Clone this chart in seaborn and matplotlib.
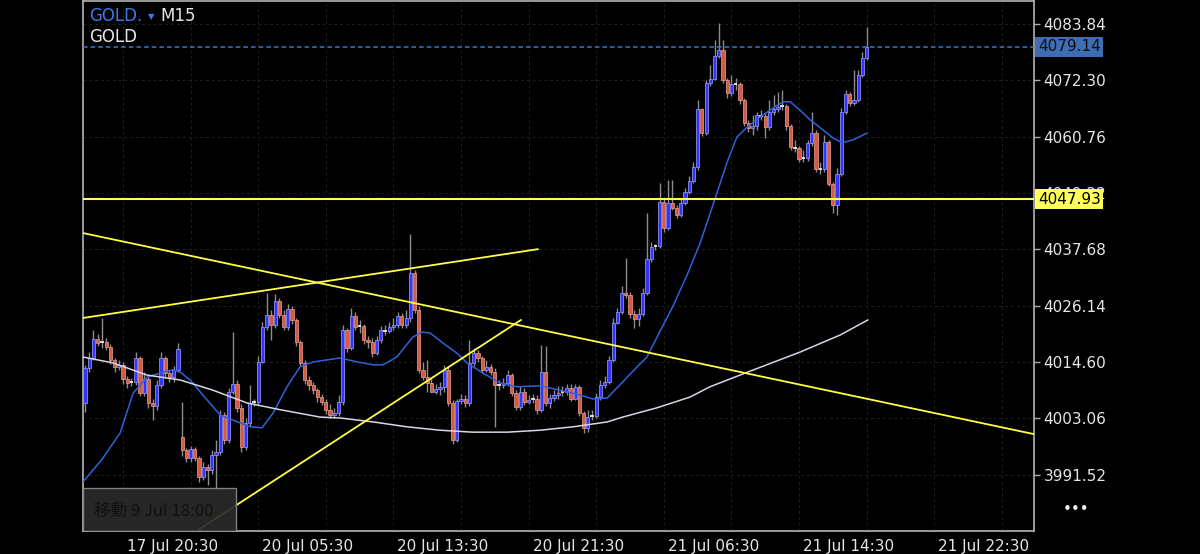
import numpy as np
import pandas as pd
import seaborn as sns
import matplotlib.pyplot as plt
from matplotlib.patches import Rectangle
from matplotlib.transforms import ScaledTranslation, blended_transform_factory

# ---- GOLD M15 candles ----
opens = [4006.2, 4013.4, 4015.4, 4019.3, 4018.5, 4018.7, 4017.7, 4015.0, 4013.6, 4014.0,
         4011.1, 4010.3, 4010.5, 4015.4, 4008.2, 4011.1, 4006.2, 4005.6, 4009.9, 4015.4,
         4012.3, 4011.5, 4013.0, 3999.2, 3996.6, 3994.9, 3996.8, 3994.9, 3991.0, 3993.1,
         3992.5, 3995.5, 3996.2, 4003.7, 3998.6, 4008.4, 4010.1, 4005.2, 3997.2, 4002.1,
         4006.2, 4006.4, 4014.6, 4021.8, 4024.2, 4022.2, 4027.1, 4024.2, 4021.8, 4025.4,
         4023.2, 4018.7, 4014.4, 4010.9, 4009.9, 4008.8, 4007.4, 4006.4, 4004.8, 4003.7,
         4004.1, 4006.4, 4021.1, 4017.5, 4024.0, 4021.8, 4021.9, 4019.1, 4018.7, 4016.4,
         4019.1, 4021.1, 4020.9, 4021.8, 4022.2, 4024.0, 4022.2, 4023.6, 4032.8, 4025.2,
         4013.0, 4011.5, 4010.3, 4008.4, 4009.0, 4009.4, 4013.0, 4006.2, 3998.6, 4006.6,
         4007.0, 4006.2, 4014.4, 4016.4, 4015.4, 4013.0, 4013.6, 4012.5, 4009.9, 4009.8,
         4010.3, 4011.9, 4008.2, 4005.4, 4008.4, 4006.4, 4006.8, 4007.0, 4004.8, 4012.5,
         4006.2, 4007.2, 4007.8, 4008.2, 4008.4, 4009.3, 4007.0, 4009.5, 4004.1, 4001.1,
         4003.3, 4003.5, 4007.4, 4009.9, 4010.5, 4015.0, 4022.6, 4024.8, 4028.7, 4028.3,
         4024.4, 4023.4, 4024.4, 4028.7, 4035.7, 4038.2, 4038.3, 4047.4, 4042.0, 4047.2,
         4046.1, 4044.7, 4047.2, 4049.4, 4051.7, 4054.5, 4066.4, 4061.5, 4071.8, 4072.6,
         4077.3, 4078.5, 4072.4, 4069.7, 4071.6, 4071.5, 4068.3, 4063.6, 4062.5, 4062.9,
         4065.2, 4065.0, 4062.7, 4065.8, 4066.4, 4066.8, 4067.0, 4062.9, 4058.6, 4058.4,
         4056.2, 4056.4, 4059.5, 4061.5, 4054.1, 4054.2, 4059.7, 4051.1, 4046.8, 4053.1,
         4065.8, 4069.5, 4067.7, 4068.3, 4073.4, 4076.9]

highs = [4014.0, 4016.6, 4021.1, 4020.3, 4023.6, 4019.5, 4018.3, 4015.4, 4015.0, 4014.6,
         4011.7, 4011.3, 4016.6, 4015.8, 4012.5, 4011.7, 4007.0, 4010.9, 4016.6, 4015.8,
         4013.0, 4013.8, 4018.5, 4006.4, 3997.0, 3997.4, 3997.2, 3995.3, 3994.1, 3993.7,
         3996.6, 3998.6, 4004.8, 4004.3, 4009.3, 4020.7, 4010.9, 4006.0, 4003.1, 4009.9,
         4007.0, 4015.8, 4022.8, 4028.7, 4025.2, 4028.5, 4027.7, 4025.2, 4026.5, 4026.1,
         4023.6, 4019.1, 4015.0, 4011.7, 4010.5, 4009.3, 4008.0, 4007.0, 4006.0, 4005.2,
         4007.8, 4022.2, 4021.6, 4025.7, 4024.8, 4023.2, 4022.4, 4019.9, 4019.5, 4019.9,
         4022.0, 4022.2, 4022.8, 4023.6, 4024.8, 4024.6, 4025.2, 4040.8, 4033.4, 4026.1,
         4014.6, 4015.0, 4011.3, 4010.1, 4010.5, 4014.0, 4013.8, 4006.8, 4007.0, 4008.0,
         4007.8, 4019.1, 4017.5, 4017.0, 4015.8, 4015.0, 4014.2, 4013.4, 4010.9, 4011.3,
         4013.0, 4012.3, 4008.8, 4009.7, 4009.3, 4007.8, 4008.0, 4007.8, 4018.1, 4017.9,
         4008.0, 4008.8, 4009.7, 4009.7, 4010.1, 4010.1, 4010.1, 4009.9, 4004.5, 4004.8,
         4004.8, 4008.2, 4010.9, 4011.7, 4015.8, 4023.6, 4025.7, 4030.2, 4035.9, 4028.9,
         4025.2, 4025.7, 4029.8, 4045.1, 4039.2, 4038.8, 4051.3, 4048.0, 4051.9, 4051.9,
         4046.8, 4048.0, 4050.2, 4052.7, 4055.6, 4068.3, 4066.6, 4072.4, 4075.4, 4080.6,
         4084.1, 4080.6, 4072.8, 4073.4, 4072.8, 4072.0, 4068.7, 4064.2, 4065.2, 4065.8,
         4066.2, 4065.6, 4068.3, 4069.3, 4069.9, 4070.3, 4067.5, 4063.4, 4060.1, 4058.8,
         4058.0, 4060.1, 4065.8, 4062.1, 4055.6, 4061.1, 4060.1, 4051.5, 4054.3, 4066.6,
         4070.3, 4069.9, 4074.4, 4074.4, 4078.1, 4083.2]

lows = [4004.3, 4012.5, 4015.0, 4017.9, 4017.5, 4017.0, 4014.2, 4012.5, 4013.0, 4010.1,
        4009.3, 4009.7, 4009.9, 4007.6, 4007.6, 4005.2, 4002.7, 4004.8, 4009.3, 4011.3,
        4010.5, 4010.5, 4012.5, 3995.3, 3994.1, 3994.1, 3994.3, 3990.0, 3990.4, 3989.4,
        3991.6, 3988.4, 3995.5, 3997.8, 3998.0, 4008.0, 4004.3, 3996.1, 3996.6, 4001.5,
        4005.6, 4005.8, 4014.4, 4021.1, 4019.1, 4021.6, 4023.6, 4021.1, 4021.1, 4022.4,
        4017.9, 4013.8, 4010.1, 4008.8, 4008.0, 4006.4, 4005.8, 4003.9, 4003.1, 4003.1,
        4003.5, 4005.8, 4016.6, 4017.0, 4021.1, 4020.5, 4018.3, 4017.5, 4015.6, 4016.0,
        4018.5, 4020.1, 4020.5, 4021.1, 4021.6, 4021.6, 4021.6, 4022.8, 4024.6, 4012.3,
        4010.9, 4008.4, 4008.4, 4008.0, 4007.8, 4008.4, 4005.6, 3997.8, 3998.2, 4006.0,
        4005.4, 4005.6, 4013.8, 4014.6, 4012.3, 4012.5, 4011.9, 4001.3, 4008.8, 4009.3,
        4009.7, 4007.6, 4004.8, 4004.8, 4005.8, 4006.0, 4006.2, 4003.9, 4004.3, 4005.6,
        4005.2, 4006.6, 4007.0, 4007.6, 4007.8, 4006.6, 4006.8, 4003.5, 4000.0, 4000.2,
        4002.7, 4003.1, 4006.8, 4009.3, 4010.1, 4014.6, 4022.4, 4024.4, 4027.7, 4023.6,
        4021.6, 4022.0, 4024.0, 4028.3, 4035.1, 4037.5, 4037.9, 4041.2, 4041.6, 4045.7,
        4044.1, 4044.3, 4046.8, 4049.0, 4051.3, 4053.9, 4060.9, 4061.1, 4071.1, 4072.4,
        4076.9, 4071.8, 4068.7, 4069.1, 4070.3, 4067.5, 4062.9, 4061.7, 4061.1, 4062.1,
        4064.2, 4060.5, 4062.1, 4065.2, 4065.8, 4066.2, 4062.1, 4058.0, 4057.6, 4055.6,
        4055.6, 4055.8, 4058.8, 4053.5, 4053.1, 4053.5, 4050.7, 4045.1, 4044.7, 4052.7,
        4065.4, 4067.0, 4067.3, 4067.9, 4073.0, 4076.5]

closes = [4013.4, 4015.4, 4019.3, 4018.5, 4018.7, 4017.7, 4015.0, 4013.6, 4014.0, 4011.1,
          4010.3, 4010.5, 4015.4, 4008.2, 4011.1, 4006.2, 4005.6, 4009.9, 4015.4, 4012.3,
          4011.5, 4013.0, 4017.3, 3996.6, 3994.9, 3996.8, 3994.9, 3991.0, 3993.1, 3992.5,
          3995.5, 3996.2, 4003.7, 3998.6, 4008.4, 4010.1, 4005.2, 3997.2, 4002.1, 4006.2,
          4006.4, 4014.6, 4021.8, 4024.2, 4022.2, 4027.1, 4024.2, 4021.8, 4025.4, 4023.2,
          4018.7, 4014.4, 4010.9, 4009.9, 4008.8, 4007.4, 4006.4, 4004.8, 4003.7, 4004.1,
          4006.4, 4021.1, 4017.5, 4024.0, 4021.8, 4021.9, 4019.1, 4018.7, 4016.4, 4019.1,
          4021.1, 4020.9, 4021.8, 4022.2, 4024.0, 4022.2, 4023.6, 4032.8, 4025.2, 4013.0,
          4011.5, 4010.3, 4008.4, 4009.0, 4009.4, 4013.0, 4006.2, 3998.6, 4006.6, 4007.0,
          4006.2, 4014.4, 4016.4, 4015.4, 4013.0, 4013.6, 4012.5, 4009.9, 4009.8, 4010.3,
          4011.9, 4008.2, 4005.4, 4008.4, 4006.4, 4006.8, 4007.0, 4004.8, 4012.5, 4006.2,
          4007.2, 4007.8, 4008.2, 4008.4, 4009.3, 4007.0, 4009.5, 4004.1, 4001.1, 4003.3,
          4003.5, 4007.4, 4009.9, 4010.5, 4015.0, 4022.6, 4024.8, 4028.7, 4028.3, 4024.4,
          4023.4, 4024.4, 4028.7, 4035.7, 4038.2, 4038.3, 4047.4, 4042.0, 4047.2, 4046.1,
          4044.7, 4047.2, 4049.4, 4051.7, 4054.5, 4066.4, 4061.5, 4071.8, 4072.6, 4077.3,
          4078.5, 4072.4, 4069.7, 4071.6, 4071.5, 4068.3, 4063.6, 4062.5, 4062.9, 4065.2,
          4065.0, 4062.7, 4065.8, 4066.4, 4066.8, 4067.0, 4062.9, 4058.6, 4058.4, 4056.2,
          4056.4, 4059.5, 4061.5, 4054.1, 4054.2, 4059.7, 4051.1, 4046.8, 4053.1, 4065.8,
          4069.5, 4067.7, 4068.3, 4073.4, 4076.9, 4079.14]

# moving averages (bar index, price) as drawn on the chart
ma_fast_bar = [-0.5, 4.0, 8.3, 11.4, 14.7, 18.5, 20.8, 22.5, 24.9, 28.9, 32.0, 35.0, 39.1, 41.9,
               44.5, 47.8, 50.9, 54.0, 60.4, 64.4, 68.2, 70.5, 73.8, 77.6, 79.8, 81.7, 84.7,
               88.0, 90.4, 94.2, 98.2, 102.2, 107.7, 112.4, 117.2, 120.2, 123.6, 126.6, 130.7,
               133.0, 135.4, 139.2, 142.5, 145.6, 149.1, 152.0, 154.3, 156.7, 159.8, 162.8,
               165.2, 166.9, 169.2, 171.6, 174.7, 177.0, 179.2, 181.8, 185.1]
ma_fast_val = [3990.0, 3994.6, 4000.0, 4008.2, 4011.5, 4012.5, 4013.0, 4012.5, 4010.9, 4006.8, 4003.7,
               4002.7, 4001.3, 4001.1, 4004.1, 4009.5, 4013.6, 4014.6, 4015.4, 4014.6, 4014.0,
               4014.0, 4015.6, 4019.7, 4020.7, 4020.5, 4018.5, 4016.4, 4014.4, 4012.3, 4010.3,
               4009.5, 4009.7, 4008.8, 4007.8, 4007.0, 4007.2, 4009.9, 4013.6, 4015.6, 4019.7,
               4026.1, 4032.4, 4039.0, 4048.0, 4055.6, 4060.7, 4062.7, 4064.8, 4066.6, 4067.9,
               4067.9, 4066.2, 4064.2, 4062.1, 4060.5, 4059.5, 4060.1, 4061.5]
ma_slow_bar = [-0.5, 6.6, 14.7, 22.5, 30.3, 38.3, 46.2, 55.6, 60.4, 68.2, 76.2, 84.0, 91.8,
               99.9, 107.7, 115.5, 123.6, 127.3, 135.4, 143.2, 147.9, 156.2, 169.2, 178.7, 185.3]
ma_slow_val = [4015.6, 4014.4, 4011.9, 4010.9, 4008.8, 4006.2, 4004.8, 4003.3, 4003.1, 4002.3,
               4001.3, 4000.6, 4000.2, 4000.2, 4000.6, 4001.3, 4002.3, 4003.3, 4005.2, 4007.4,
               4009.5, 4012.3, 4016.6, 4020.1, 4023.2]

# trend lines drawn by the user: (bars, prices)
trend_down = ([-0.47, 224.6], [4041.0, 3999.8])
trend_up_top = ([-0.47, 107.2], [4023.6, 4037.7])
trend_up_low = ([26.5, 103.2], [3980.0, 4023.2])
support_level = 4047.93
last_price = 4079.14

price_ticks = [3991.52, 4003.06, 4014.60, 4026.14, 4037.68, 4049.22, 4060.76, 4072.30, 4083.84]
time_ticks = [9, 41, 73, 105, 137, 169, 201]
time_labels = ["17 Jul 20:30", "20 Jul 05:30", "20 Jul 13:30", "20 Jul 21:30",
               "21 Jul 06:30", "21 Jul 14:30", "21 Jul 22:30"]

df = pd.DataFrame({"open": opens, "high": highs, "low": lows, "close": closes})
df["bar"] = np.arange(len(df))
df["body_lo"] = df[["open", "close"]].min(axis=1)
df["body_h"] = (df["close"] - df["open"]).abs()
doji = df["body_h"] < 0.3
up = (df["close"] > df["open"]) & ~doji
dn = (df["close"] < df["open"]) & ~doji

sns.set_theme(style="dark", rc={"axes.facecolor": "black", "figure.facecolor": "black",
                                "axes.edgecolor": "#b4b4b4", "axes.grid": False})
plt.rcParams["font.family"] = ["DejaVu Sans", "Noto Sans CJK JP"]

fig = plt.figure(figsize=(12, 5.54), dpi=100, facecolor="black")
ax = fig.add_axes([83 / 1200, 23 / 554, 951 / 1200, 530 / 554])
ax.set_facecolor("black")

# faint dashed grid
for gx in range(-7, 225, 16):
    ax.axvline(gx, color="#1e1e1e", lw=0.7, ls=(0, (3, 3)), zorder=0)
for gy in price_ticks:
    ax.axhline(gy, color="#1e1e1e", lw=0.7, ls=(0, (3, 3)), zorder=0)

# candles
ax.vlines(df["bar"], df["low"], df["high"], color="#8c8c8c", lw=1.0, zorder=2)
ax.bar(df["bar"][up], df["body_h"][up], bottom=df["body_lo"][up], width=0.76,
       color="#3434ff", edgecolor="#a0a0ff", linewidth=0.5, zorder=3)
ax.bar(df["bar"][dn], df["body_h"][dn], bottom=df["body_lo"][dn], width=0.76,
       color="#d35a44", edgecolor="#f0a090", linewidth=0.5, zorder=3)
ax.hlines(df["close"][doji], df["bar"][doji] - 0.4, df["bar"][doji] + 0.4,
          color="#e8e8e8", lw=1.3, zorder=3)

# moving averages
sns.lineplot(x=ma_fast_bar, y=ma_fast_val, ax=ax, color="#2f62d8", lw=1.1, zorder=4, sort=False)
sns.lineplot(x=ma_slow_bar, y=ma_slow_val, ax=ax, color="#d6d6e6", lw=1.1, zorder=4, sort=False)

# user lines
for xs, ys in (trend_down, trend_up_top, trend_up_low):
    ax.plot(xs, ys, color="#ffff44", lw=1.3, zorder=5)
ax.axhline(support_level, color="#ffff55", lw=1.5, zorder=5)
ax.axhline(last_price, color="#3f78c8", lw=1.1, ls=(0, (3, 2)), zorder=5)

ax.set_xlim(-0.47, 224.6)
ax.set_ylim(3979.95, 4088.55)
ax.set_xlabel("")
ax.set_ylabel("")

ax.yaxis.tick_right()
ax.set_yticks(price_ticks)
ax.set_yticklabels([f"{v:.2f}" for v in price_ticks])
ax.set_xticks(time_ticks)
ax.set_xticklabels(time_labels)
ax.tick_params(axis="both", colors="#aaaaaa", labelcolor="#e6e6e6", labelsize=11,
               length=4, width=1, direction="out")
ax.tick_params(axis="x", pad=2)
ax.tick_params(axis="y", pad=3)
shift = ScaledTranslation(4 / 100, 0, fig.dpi_scale_trans)
for lbl in ax.get_xticklabels():
    lbl.set_ha("left")
    lbl.set_transform(lbl.get_transform() + shift)
for sp in ax.spines.values():
    sp.set_visible(True)
    sp.set_color("#b4b4b4")
    sp.set_linewidth(1.2)

# price tags on the right axis
tag = blended_transform_factory(ax.transAxes, ax.transData)
ax.text(1.004, last_price, f"{last_price:.2f}", transform=tag, ha="left", va="center",
        fontsize=11, color="#101010", clip_on=False, zorder=20,
        bbox=dict(boxstyle="square,pad=0.18", fc="#3f6db3", ec="none"))
ax.text(1.004, support_level, f"{support_level:.2f}", transform=tag, ha="left", va="center",
        fontsize=11, color="#000000", clip_on=False, zorder=20,
        bbox=dict(boxstyle="square,pad=0.18", fc="#ffff5c", ec="none"))

# symbol header
fig.text(89 / 1200, 1 - 16 / 554, "GOLD.", color="#3d7ae6", fontsize=12, va="center")
fig.text(148 / 1200, 1 - 17 / 554, "\u25bc", color="#3d7ae6", fontsize=6, va="center")
fig.text(160 / 1200, 1 - 16 / 554, "M15", color="#e8e8e8", fontsize=12, va="center")
fig.text(89 / 1200, 1 - 37 / 554, "GOLD", color="#e8e8e8", fontsize=12, va="center")

# scroll hint box, bottom left
ax.add_patch(Rectangle((0, 0), 153 / 951, 43 / 530, transform=ax.transAxes,
                       fc="#2a2a2a", ec="#8a8a8a", lw=1.0, alpha=0.92, zorder=10))
ax.text(11 / 951, 20 / 530, "移動 9 Jul 18:00", transform=ax.transAxes, color="#111111",
        fontsize=12, va="center", zorder=11, family=["Noto Sans CJK JP", "DejaVu Sans"])

fig.text(1076 / 1200, 1 - 509 / 554, "\u2022\u2022\u2022", color="#f0f0f0", fontsize=11,
         ha="center", va="center")

fig.savefig("out.png", dpi=100, facecolor="black")
